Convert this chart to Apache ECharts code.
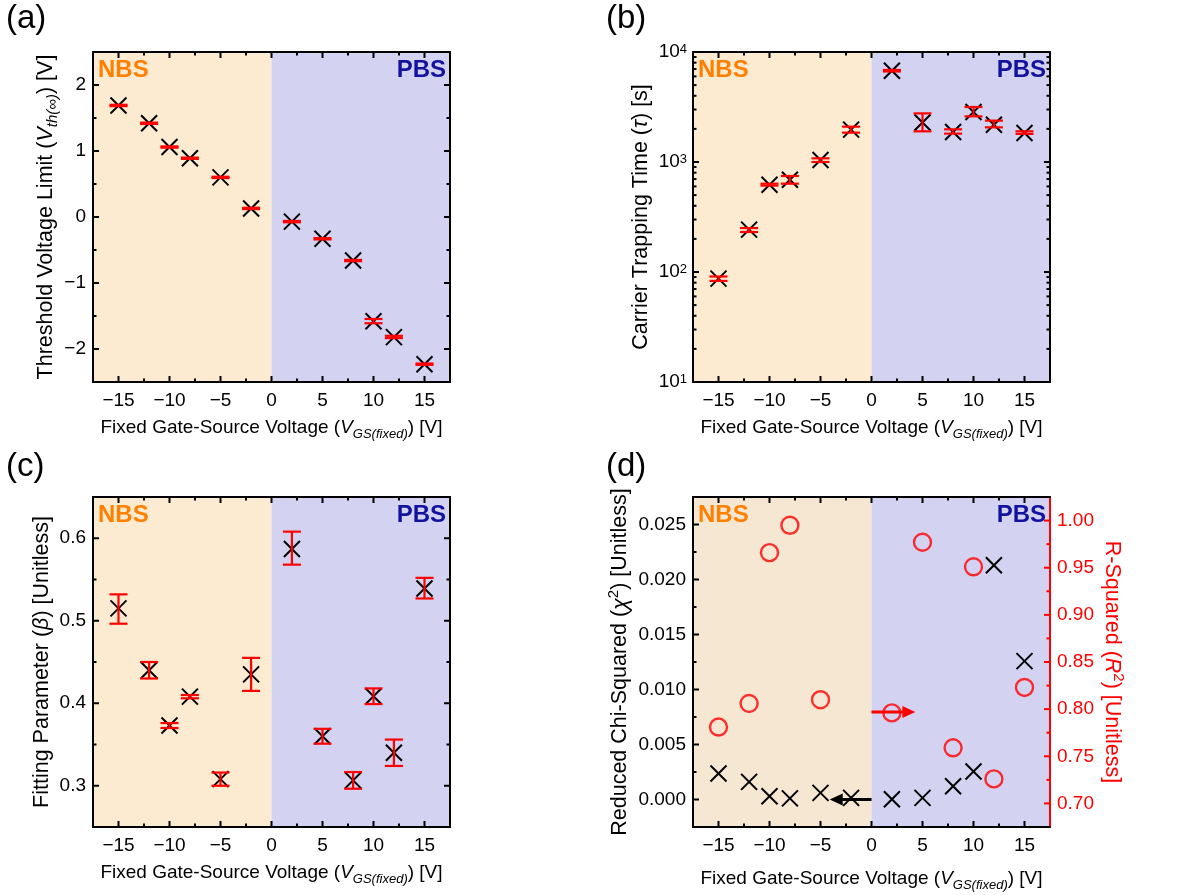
<!DOCTYPE html>
<html><head><meta charset="utf-8">
<script src="https://cdn.jsdelivr.net/npm/echarts@6/dist/echarts.min.js"></script>
<style>html,body{margin:0;padding:0;background:#fff}#c{width:1199px;height:895px}</style>
</head><body><div id="c"></div>
<script>
// ---------- data ----------
const vgs = [-15, -12, -10, -8, -5, -2, 2, 5, 8, 10, 12, 15];
const vthInf = [1.69, 1.42, 1.06, 0.89, 0.60, 0.13, -0.07, -0.33, -0.66, -1.58, -1.82, -2.23];
const vthLow = [1.68, 1.41, 1.05, 0.88, 0.59, 0.12, -0.08, -0.34, -0.67, -1.61, -1.835, -2.24];
const vthHigh = [1.70, 1.43, 1.07, 0.90, 0.61, 0.14, -0.06, -0.32, -0.65, -1.545, -1.80, -2.22];
const tau = [87, 243, 622, 690, 1043, 1968, 6760, 2290, 1875, 2850, 2183, 1837];
const tauLow = [83, 231, 610, 635, 1000, 1848, 6650, 1901, 1811, 2600, 2066, 1800];
const tauHigh = [91, 251, 635, 746, 1080, 2095, 6870, 2767, 1982, 3162, 2377, 1901];
const beta = [0.515, 0.440, 0.373, 0.408, 0.308, 0.435, 0.587, 0.360, 0.3065, 0.4085, 0.340, 0.539];
const betaLow = [0.4964, 0.430, 0.370, 0.406, 0.300, 0.415, 0.568, 0.351, 0.2964, 0.399, 0.324, 0.527];
const betaHigh = [0.532, 0.450, 0.376, 0.410, 0.316, 0.455, 0.608, 0.369, 0.3166, 0.418, 0.356, 0.552];
const chiSq = [0.00236, 0.0016, 0.0003, 0.0001, 0.0006, 0.00015, 0.00003, 0.00015, 0.0012, 0.00255, 0.0213, 0.01258];
const rSq = [0.781, 0.806, 0.966, 0.995, 0.810, null, 0.796, 0.977, 0.759, 0.951, 0.726, 0.823];
const arrowChi = [[0, 0], [-4.1, 0]];
const arrowR = [[0, 0.797], [4.3, 0.797]];

// ---------- ticks ----------
const xTicks = [-15, -10, -5, 0, 5, 10, 15];
const xMinor = [-12.5, -7.5, -2.5, 2.5, 7.5, 12.5];
const vthTicks = [-2, -1, 0, 1, 2];
const vthMinor = [-1.5, -0.5, 0.5, 1.5];
const tauTicks = [10, 100, 1000, 10000];
const tauMinor = [20, 30, 40, 50, 60, 70, 80, 90, 200, 300, 400, 500, 600, 700, 800, 900, 2000, 3000, 4000, 5000, 6000, 7000, 8000, 9000];
const betaTicks = [0.3, 0.4, 0.5, 0.6];
const betaMinor = [0.35, 0.45, 0.55];
const chiTicks = [0, 0.005, 0.01, 0.015, 0.02, 0.025];
const chiMinor = [0.0025, 0.0075, 0.0125, 0.0175, 0.0225];
const rTicks = [0.70, 0.75, 0.80, 0.85, 0.90, 0.95, 1.00];
const rMinor = [0.725, 0.775, 0.825, 0.875, 0.925, 0.975];

const FONT = '"Liberation Sans", Arial, sans-serif';
const NBS_A = '#fdebd1', NBS_D = '#f6e7d3', PBS = '#d3d3f1';
const RED = '#ff0000';

const grids = [
  {left: 93, top: 52, width: 357, height: 330},
  {left: 693, top: 52, width: 357, height: 330},
  {left: 93, top: 497, width: 357, height: 330},
  {left: 693, top: 497, width: 357, height: 330}
];

const minusFmt = v => (v < 0 ? '\u2212' : '') + String(Math.abs(v));
function nameStyle(size, lh, color) {
  const c = color || '#000';
  const sm = Math.round(size * 0.7);
  return {fontSize: size, fontFamily: FONT, color: c, lineHeight: lh,
    rich: {
      i: {fontStyle: 'italic', fontSize: size, fontFamily: FONT, color: c},
      sub: {fontStyle: 'italic', fontSize: sm, fontFamily: FONT, color: c, verticalAlign: 'bottom', lineHeight: sm + 2},
      sup: {fontSize: sm, fontFamily: FONT, color: c, verticalAlign: 'top', lineHeight: sm + 2}
    }};
}
const xName = 'Fixed Gate-Source Voltage ({i|V}{sub|GS(fixed)}) [V]';
const labelStyle = {fontSize: 19, fontFamily: FONT, color: '#000'};

function xAxes(g, gap) {
  return [
    {type: 'value', gridIndex: g, min: -17.5, max: 17.5, z: 5,
     axisLine: {show: true, onZero: false, lineStyle: {color: '#000', width: 2}}, axisTick: {show: false}, splitLine: {show: false},
     axisLabel: Object.assign({customValues: xTicks, formatter: minusFmt, margin: 9}, labelStyle),
     name: xName, nameLocation: 'middle', nameGap: gap, nameTextStyle: nameStyle(19, 26)},
    {type: 'value', gridIndex: g, position: 'top', min: -17.5, max: 17.5, z: 5,
     axisLine: {show: true, onZero: false, lineStyle: {color: '#000', width: 2}}, axisTick: {show: false},
     splitLine: {show: false}, axisLabel: {show: false}}
  ];
}
function yLeft(g, cfg) {
  return Object.assign({type: 'value', gridIndex: g, z: 5, position: 'left',
    axisLine: {show: true, onZero: false, lineStyle: {color: '#000', width: 2}}, axisTick: {show: false}, splitLine: {show: false},
    nameLocation: 'middle', nameTextStyle: nameStyle(21.5, 28)}, cfg);
}
function yRight(g, cfg) {
  return Object.assign({type: 'value', gridIndex: g, z: 5, position: 'right',
    axisLine: {show: true, onZero: false, lineStyle: {color: '#000', width: 2}}, axisTick: {show: false},
    splitLine: {show: false}, axisLabel: {show: false}}, cfg);
}

function shadeSeries(g, yRef, nbsColor) {
  return {type: 'custom', xAxisIndex: 2 * g, yAxisIndex: 2 * g, silent: true, z: 0,
    data: [[0, yRef]],
    renderItem: function (params, api) {
      const cs = params.coordSys;
      const x0 = api.coord([0, yRef])[0];
      return {type: 'group', children: [
        {type: 'rect', shape: {x: cs.x, y: cs.y, width: x0 - cs.x, height: cs.height}, style: {fill: nbsColor}},
        {type: 'rect', shape: {x: x0, y: cs.y, width: cs.x + cs.width - x0, height: cs.height}, style: {fill: PBS}}
      ]};
    }};
}

function tickSeries(g, yIdx, xRef, yRef, xMaj, xMin, yMaj, yMin, sides, color) {
  return {type: 'custom', xAxisIndex: 2 * g, yAxisIndex: yIdx, silent: true, z: 6,
    data: [[xRef, yRef]],
    renderItem: function (params, api) {
      const cs = params.coordSys, ch = [];
      const L = 6, l = 3.5;
      const add = (x1, y1, x2, y2) => ch.push({type: 'line', shape: {x1, y1, x2, y2}, style: {stroke: color, lineWidth: 2}});
      const bot = cs.y + cs.height, top = cs.y, left = cs.x, right = cs.x + cs.width;
      [[xMaj, L], [xMin, l]].forEach(([arr, len]) => arr.forEach(v => {
        const px = api.coord([v, yRef])[0];
        add(px, bot, px, bot - len); add(px, top, px, top + len);
      }));
      [[yMaj, L], [yMin, l]].forEach(([arr, len]) => arr.forEach(v => {
        const py = api.coord([xRef, v])[1];
        if (sides.left) add(left, py, left + len, py);
        if (sides.right) add(right, py, right - len, py);
      }));
      return {type: 'group', children: ch};
    }};
}

function errSeries(g, yIdx, ys, lo, hi) {
  return {type: 'custom', xAxisIndex: 2 * g, yAxisIndex: yIdx, silent: true, z: 4,
    data: vgs.map((x, i) => [x, ys[i], lo ? lo[i] : ys[i], hi ? hi[i] : ys[i]]),
    renderItem: function (params, api) {
      const x = api.value(0), y = api.value(1);
      const c = api.coord([x, y]);
      const s = 8, cw = 9;
      const ch = [
        {type: 'line', shape: {x1: c[0] - s, y1: c[1] - s, x2: c[0] + s, y2: c[1] + s}, style: {stroke: '#000', lineWidth: 2}},
        {type: 'line', shape: {x1: c[0] - s, y1: c[1] + s, x2: c[0] + s, y2: c[1] - s}, style: {stroke: '#000', lineWidth: 2}}
      ];
      if (lo) {
        const l = api.coord([x, api.value(2)]), h = api.coord([x, api.value(3)]);
        const st = {stroke: RED, lineWidth: 2.2};
        ch.push({type: 'line', shape: {x1: l[0], y1: l[1], x2: h[0], y2: h[1]}, style: st});
        ch.push({type: 'line', shape: {x1: l[0] - cw, y1: l[1], x2: l[0] + cw, y2: l[1]}, style: st});
        ch.push({type: 'line', shape: {x1: h[0] - cw, y1: h[1], x2: h[0] + cw, y2: h[1]}, style: st});
      }
      return {type: 'group', children: ch};
    }};
}

function arrowSeries(g, yIdx, pts, color) {
  return {type: 'custom', xAxisIndex: 2 * g, yAxisIndex: yIdx, silent: true, z: 5,
    data: [[pts[0][0], pts[0][1], pts[1][0], pts[1][1]]],
    renderItem: function (params, api) {
      const a = api.coord([api.value(0), api.value(1)]);
      const b = api.coord([api.value(2), api.value(3)]);
      const dir = Math.sign(b[0] - a[0]);
      const hl = 13, hw = 6;
      return {type: 'group', children: [
        {type: 'line', shape: {x1: a[0], y1: a[1], x2: b[0] - dir * hl * 0.6, y2: b[1]}, style: {stroke: color, lineWidth: 3}},
        {type: 'polygon', shape: {points: [[b[0], b[1]], [b[0] - dir * hl, b[1] - hw], [b[0] - dir * hl, b[1] + hw]]}, style: {fill: color}}
      ]};
    }};
}

const option = {
  animation: false,
  backgroundColor: '#fff',
  grid: grids,
  xAxis: [].concat(xAxes(0, 33), xAxes(1, 33), xAxes(2, 33), xAxes(3, 39)),
  yAxis: [
    yLeft(0, {min: -2.5, max: 2.5, axisLabel: Object.assign({customValues: vthTicks, formatter: minusFmt, margin: 7}, labelStyle),
      name: 'Threshold Voltage Limit ({i|V}{sub|th(\u221e)}) [V]', nameGap: 31}),
    yRight(0, {min: -2.5, max: 2.5}),
    yLeft(1, {type: 'log', logBase: 10, min: 10, max: 10000,
      axisLabel: Object.assign({margin: 6, formatter: v => '10{sup|' + Math.round(Math.log10(v)) + '}',
        rich: {sup: {fontSize: 13, fontFamily: FONT, color: '#000', verticalAlign: 'top', lineHeight: 12}}}, labelStyle),
      name: 'Carrier Trapping Time ({i|\u03c4}) [s]', nameGap: 32}),
    yRight(1, {type: 'log', logBase: 10, min: 10, max: 10000}),
    yLeft(2, {min: 0.25, max: 0.65, axisLabel: Object.assign({customValues: betaTicks, formatter: v => v.toFixed(1), margin: 7}, labelStyle),
      name: 'Fitting Parameter ({i|\u03b2}) [Unitless]', nameGap: 31}),
    yRight(2, {min: 0.25, max: 0.65}),
    yLeft(3, {min: -0.0025, max: 0.0275, axisLabel: Object.assign({customValues: chiTicks, formatter: v => v.toFixed(3), margin: 7}, labelStyle),
      name: 'Reduced Chi-Squared ({i|\u03c7}{sup|2}) [Unitless]', nameGap: 51}),
    yRight(3, {min: 0.675, max: 1.025,
      axisLine: {show: true, onZero: false, lineStyle: {color: RED, width: 2}},
      axisLabel: Object.assign({}, labelStyle, {show: true, customValues: rTicks, formatter: v => v.toFixed(2), color: RED, margin: 7}),
      name: 'R-Squared ({i|R}{sup|2}) [Unitless]', nameLocation: 'middle', nameGap: 43, nameRotate: -90,
      nameTextStyle: nameStyle(21.5, 28, RED)})
  ],
  series: [
    shadeSeries(0, 0, NBS_A), shadeSeries(1, 100, NBS_A), shadeSeries(2, 0.4, NBS_A), shadeSeries(3, 0.01, NBS_D),
    tickSeries(0, 0, 0, 0, xTicks, xMinor, vthTicks, vthMinor, {left: true, right: true}, '#000'),
    tickSeries(1, 2, 0, 100, xTicks, xMinor, tauTicks, tauMinor, {left: true, right: true}, '#000'),
    tickSeries(2, 4, 0, 0.4, xTicks, xMinor, betaTicks, betaMinor, {left: true, right: true}, '#000'),
    tickSeries(3, 6, 0, 0.01, xTicks, xMinor, chiTicks, chiMinor, {left: true, right: false}, '#000'),
    tickSeries(3, 7, 0, 0.8, [], [], rTicks, rMinor, {left: false, right: true}, RED),
    errSeries(0, 0, vthInf, vthLow, vthHigh),
    errSeries(1, 2, tau, tauLow, tauHigh),
    errSeries(2, 4, beta, betaLow, betaHigh),
    errSeries(3, 6, chiSq, null, null),
    {type: 'scatter', xAxisIndex: 6, yAxisIndex: 7, z: 4, silent: true,
      data: vgs.map((x, i) => [x, rSq[i]]).filter(d => d[1] !== null),
      symbol: 'circle', symbolSize: 17,
      itemStyle: {color: 'rgba(0,0,0,0)', borderColor: RED, borderWidth: 2.4}},
    arrowSeries(3, 6, arrowChi, '#000'),
    arrowSeries(3, 7, arrowR, RED)
  ],
  graphic: [
    {type: 'text', left: 6, top: 2, style: {text: '(a)', font: '33px ' + FONT, fill: '#000'}},
    {type: 'text', left: 606, top: 2, style: {text: '(b)', font: '33px ' + FONT, fill: '#000'}},
    {type: 'text', left: 6, top: 450, style: {text: '(c)', font: '33px ' + FONT, fill: '#000'}},
    {type: 'text', left: 606, top: 450, style: {text: '(d)', font: '33px ' + FONT, fill: '#000'}},
    {type: 'text', left: 98, top: 58, z: 10, style: {text: 'NBS', font: 'bold 24px ' + FONT, fill: '#ff8000'}},
    {type: 'text', right: 753, top: 58, z: 10, style: {text: 'PBS', font: 'bold 24px ' + FONT, fill: '#12129e'}},
    {type: 'text', left: 698, top: 58, z: 10, style: {text: 'NBS', font: 'bold 24px ' + FONT, fill: '#ff8000'}},
    {type: 'text', right: 153, top: 58, z: 10, style: {text: 'PBS', font: 'bold 24px ' + FONT, fill: '#12129e'}},
    {type: 'text', left: 98, top: 503, z: 10, style: {text: 'NBS', font: 'bold 24px ' + FONT, fill: '#ff8000'}},
    {type: 'text', right: 753, top: 503, z: 10, style: {text: 'PBS', font: 'bold 24px ' + FONT, fill: '#12129e'}},
    {type: 'text', left: 698, top: 503, z: 10, style: {text: 'NBS', font: 'bold 24px ' + FONT, fill: '#ff8000'}},
    {type: 'text', right: 153, top: 503, z: 10, style: {text: 'PBS', font: 'bold 24px ' + FONT, fill: '#12129e'}}
  ]
};

const chart = echarts.init(document.getElementById('c'), null, {renderer: 'canvas'});
chart.setOption(option);
</script>
</body></html>
